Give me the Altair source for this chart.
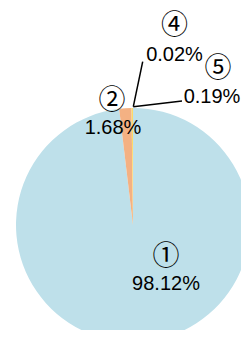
import altair as alt
import pandas as pd

categories = ["①", "②", "④", "⑤"]
shares = [98.12, 1.68, 0.02, 0.19]
share_labels = ["98.12%", "1.68%", "0.02%", "0.19%"]
colors = ["#BEE0EA", "#F4B183", "#A9D18E", "#FFD966"]

df = pd.DataFrame({
    "cat": categories,
    "share": shares,
    "label": share_labels,
    "order": list(range(len(categories))),
})

base = alt.Chart(df)

pie = base.mark_arc(outerRadius=117).encode(
    theta=alt.Theta("share:Q", stack=True),
    order=alt.Order("order:Q"),
    color=alt.Color("cat:N", scale=alt.Scale(domain=categories, range=colors), legend=None),
    x=alt.value(125),
    y=alt.value(217),
)

# annotation layout: (circle cx, circle cy, pct cx, pct baseline)
layout = {
    "①": (158, 249, 158, 282),
    "②": (104, 93, 105, 126),
    "④": (166.5, 18, 166.5, 53),
    "⑤": (210, 61, 204, 95),
}

layers = [pie]

leaders = [
    ("④", 134.7, 53.7, 125.3, 98.7),
    ("⑤", 125.3, 98.7, 174, 93),
]
for cat, x1, y1, x2, y2 in leaders:
    layers.append(
        base.transform_filter(alt.datum.cat == cat).mark_rule(color="#000000", strokeWidth=1.5).encode(
            x=alt.value(x1), y=alt.value(y1), x2=alt.value(x2), y2=alt.value(y2)
        )
    )

for cat, (cx, cy, px, py) in layout.items():
    f = base.transform_filter(alt.datum.cat == cat)
    layers.append(
        f.mark_text(font="Noto Sans CJK JP", fontSize=27, baseline="middle", align="center", color="#000000").encode(
            text="cat:N", x=alt.value(cx), y=alt.value(cy)
        )
    )
    layers.append(
        f.mark_text(font="Liberation Sans", fontSize=20, baseline="alphabetic", align="center", color="#000000").encode(
            text="label:N", x=alt.value(px), y=alt.value(py)
        )
    )

chart = alt.layer(*layers).properties(
    width=233, height=322, padding=0, autosize="none"
).configure_view(stroke=None)

chart.save("out.html", embed_options={"renderer": "svg", "actions": False})
